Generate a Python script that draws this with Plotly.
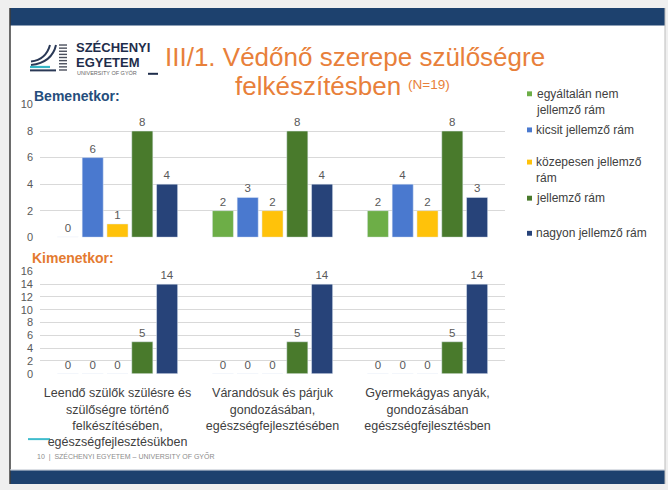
import plotly.graph_objects as go

W, H = 668, 490

# ---------------- data ----------------
categories = [
    "Leendő szülők szülésre és<br>szülőségre történő<br>felkészítésében,<br>egészségfejlesztésükben",
    "Várandósuk és párjuk<br>gondozásában,<br>egészségfejlesztésében",
    "Gyermekágyas anyák,<br>gondozásában<br>egészségfejlesztésben",
]
series_names = ["egyáltalán nem jellemző rám", "kicsit jellemző rám",
                "közepesen jellemző rám", "jellemző rám", "nagyon jellemző rám"]
legend_labels = ["egyáltalán nem<br>jellemző rám", "kicsit jellemző rám",
                 "közepesen jellemző<br>rám", "jellemző rám", "nagyon jellemző rám"]
bemenet_values = [
    [0, 2, 2],
    [6, 3, 4],
    [1, 2, 2],
    [8, 8, 8],
    [4, 4, 3],
]
kimenet_values = [
    [0, 0, 0],
    [0, 0, 0],
    [0, 0, 0],
    [5, 5, 5],
    [14, 14, 14],
]
top_ticks = [0, 2, 4, 6, 8, 10]
bottom_ticks = [0, 2, 4, 6, 8, 10, 12, 14, 16]

# ---------------- styles ----------------
colors = ["#6DAE47", "#4A79CF", "#FFC20A", "#497A2C", "#274379"]
FONT = "Liberation Sans, Arial, sans-serif"
ORANGE = "#E8803A"
LABEL_GRAY = "#595959"


def px(x):
    return x / W


def py(y):
    return 1 - y / H


fig = go.Figure()

for i, name in enumerate(series_names):
    fig.add_trace(go.Bar(
        x=categories, y=bemenet_values[i], name=name, marker_color=colors[i],
        text=[str(v) for v in bemenet_values[i]], textposition="outside",
        textfont=dict(size=11.5, color=LABEL_GRAY, family=FONT),
        cliponaxis=False, xaxis="x", yaxis="y", showlegend=False,
    ))
    fig.add_trace(go.Bar(
        x=categories, y=kimenet_values[i], name=name, marker_color=colors[i],
        text=[str(v) for v in kimenet_values[i]], textposition="outside",
        textfont=dict(size=11.5, color=LABEL_GRAY, family=FONT),
        cliponaxis=False, xaxis="x2", yaxis="y2", showlegend=False,
    ))

shapes = []
annotations = []


def rect(x0, y0, x1, y1, color, layer="below"):
    shapes.append(dict(type="rect", xref="paper", yref="paper",
                       x0=px(x0), x1=px(x1), y0=py(y1), y1=py(y0),
                       fillcolor=color, line=dict(width=0), layer=layer))


def line(x0, y0, x1, y1, color, width=1, layer="below"):
    shapes.append(dict(type="line", xref="paper", yref="paper",
                       x0=px(x0), x1=px(x1), y0=py(y0), y1=py(y1),
                       line=dict(color=color, width=width), layer=layer))


def text(x, y, s, size, color, xanchor="left", bold=False, family=FONT):
    if bold:
        s = "<b>" + s + "</b>"
    annotations.append(dict(x=px(x), y=py(y), xref="paper", yref="paper",
                            text=s, showarrow=False, xanchor=xanchor,
                            yanchor="middle", align=xanchor,
                            font=dict(size=size, color=color, family=family)))


# slide frame
rect(10, 2, 665, 490, "white")
rect(10, 2, 665, 20, "#1D416E")
rect(10, 476, 665, 490, "#1D416E")
line(10, 2, 10, 490, "#3C3C3C", 1.5)
line(665, 2, 665, 490, "#BDBDBD", 1)
line(10, 475.5, 665, 475.5, "#C9CFD8", 1)

# logo
def qpath(pts):
    (x0, y0), (cx, cy), (x1, y1) = pts
    return (f"M {px(x0)},{py(y0)} Q {px(cx)},{py(cy)} {px(x1)},{py(y1)}")

for pts in [((31, 57), (46, 55), (50, 40)), ((31, 60.5), (52, 58), (56, 40))]:
    shapes.append(dict(type="path", xref="paper", yref="paper", path=qpath(pts),
                       line=dict(color="#2A3956", width=2), layer="below"))
line(30, 62.5, 50, 62.5, "#35B5C6", 2.2)
line(30, 66, 56, 66, "#2A3956", 2)
for k in range(9):
    yy = 40 + k * 3.2
    line(59, yy, 67, yy, "#4A4F5C", 1.4)
text(74, 42.5, "SZÉCHENYI", 13, "#1E2D4B", bold=True)
text(74, 57.5, "EGYETEM", 13, "#1E2D4B", bold=True)
text(75, 69, "UNIVERSITY OF GYŐR", 5.5, "#666666")
line(148, 69.5, 158, 69.5, "#1E2D4B", 2)

# title
text(355, 52, "III/1. Védőnő szerepe szülőségre", 26, ORANGE, xanchor="center")
text(318, 82, "felkészítésben", 26, ORANGE, xanchor="center")
text(429, 80, "(N=19)", 13.5, ORANGE, xanchor="center")

# section labels
text(32, 92, "Bemenetkor:", 14, "#254D7C", bold=True)
text(30, 258, "Kimenetkor:", 14, "#E47A30", bold=True)

# manual legend
legend_y = [90, 127, 160, 197, 233]
for i, lab in enumerate(legend_labels):
    yy = legend_y[i]
    rect(527, yy - 2.5, 532, yy + 2.5, colors[i], layer="above")
    yt = yy + (8 if "<br>" in lab else 0)
    text(534, yt, lab, 12, "#404040")

# footer
line(28, 444, 50, 444, "#3FBCCD", 2)
text(35, 462, "10  |  SZÉCHENYI EGYETEM – UNIVERSITY OF GYŐR", 7, "#8C8C8C")

xdom = [px(40), px(505)]
axis_common = dict(showgrid=True, gridcolor="#D9D9D9", gridwidth=1, zeroline=False,
                   showline=False, ticks="", tickfont=dict(size=11, color=LABEL_GRAY, family=FONT),
                   ticklabelstandoff=6)

fig.update_layout(
    width=W, height=H, margin=dict(l=0, r=0, t=0, b=0),
    paper_bgcolor="#EFEFEF", plot_bgcolor="rgba(0,0,0,0)",
    barmode="group", bargap=0.2, bargroupgap=0.15,
    showlegend=False,
    font=dict(family=FONT),
    xaxis=dict(domain=xdom, anchor="y", showticklabels=False, showgrid=False,
               showline=False, ticks=""),
    xaxis2=dict(domain=xdom, anchor="y2", showgrid=False, showline=False, ticks="",
                tickfont=dict(size=12.5, color="#404040", family=FONT),
                ticklabelstandoff=10),
    yaxis=dict(domain=[py(237), py(101)], range=[0, 10], tickvals=top_ticks,
               **axis_common),
    yaxis2=dict(domain=[py(377), py(272)], range=[0, 16], tickvals=bottom_ticks,
                **axis_common),
    shapes=shapes,
    annotations=annotations,
)

fig.write_html("out.html", config={"displayModeBar": False},
               post_script="document.body.style.margin='0';")
